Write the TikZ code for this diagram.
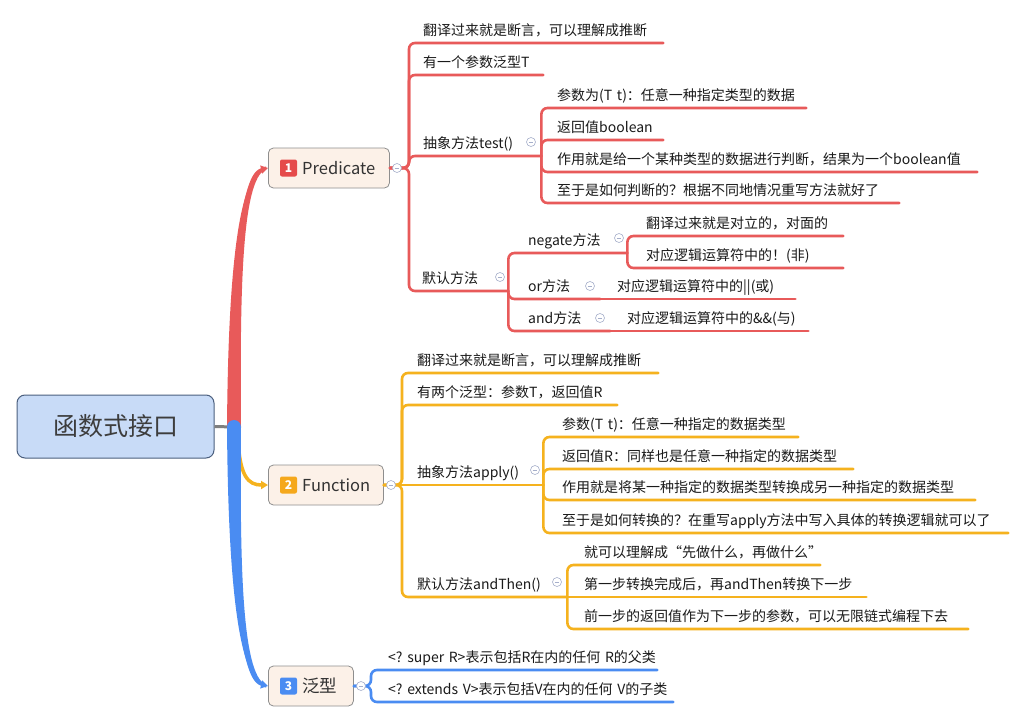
\documentclass[tikz,border=0pt]{standalone}
\usepackage{fontspec}
\setmainfont{Noto Sans CJK SC}
\usetikzlibrary{arrows.meta}
\definecolor{cred}{HTML}{E85A5A}
\definecolor{corange}{HTML}{F5B21E}
\definecolor{cblue}{HTML}{4A8CF2}
\definecolor{cgray}{HTML}{7F7F7F}
\definecolor{rootfill}{HTML}{C8DBF7}
\definecolor{rootborder}{HTML}{4B5F7E}
\definecolor{roottext}{HTML}{3D3D3D}
\definecolor{topicfill}{HTML}{FCF1E8}
\definecolor{topicborder}{HTML}{8E8E8E}
\definecolor{ctopic}{HTML}{333333}
\definecolor{ctext}{HTML}{1A1A1A}
\definecolor{bred}{HTML}{E54B4B}
\definecolor{borange}{HTML}{F5A81C}
\definecolor{bblue}{HTML}{4A8CF2}
\definecolor{ccol}{HTML}{A6AFCB}
\newcommand\leaffont{\fontsize{14pt}{17pt}\selectfont}
\newcommand\topicfont{\fontsize{16.5pt}{20pt}\selectfont}
\newcommand\topiccjkfont{\fontsize{17.5pt}{20pt}\selectfont}
\newcommand\rootfont{\fontsize{25pt}{28pt}\selectfont}
\newcommand\badgefont{\bfseries\fontsize{12pt}{14pt}\selectfont}
\begin{document}
\begin{tikzpicture}[x=1pt,y=-1pt,
  root/.style={rounded corners=8pt, fill=rootfill, draw=rootborder, line width=1pt, minimum width=197pt, minimum height=63pt, font=\rootfont, text=roottext, inner sep=0pt},
  topic/.style={anchor=west, rounded corners=5pt, fill=topicfill, draw=topicborder, line width=0.8pt, minimum height=40pt, inner sep=0pt},
  badge/.style={rounded corners=2pt, minimum size=17pt, inner sep=0pt, text=white, font=\badgefont},
  tlabel/.style={anchor=west, inner sep=0pt, font=\topicfont, text=ctopic},
  leaf/.style={anchor=south west, inner xsep=0pt, inner ysep=4pt, text height=11pt, text depth=3pt, align=left, font=\leaffont, text=ctext, execute at begin node={\hspace*{#1}}},
  brred/.style={draw=cred, line width=2.6pt, rounded corners=6pt, line cap=round},
  brorange/.style={draw=corange, line width=2.6pt, rounded corners=6pt, line cap=round},
  brblue/.style={draw=cblue, line width=2.6pt, rounded corners=6pt, line cap=round},
  col/.style={circle, draw=ccol, fill=white, minimum size=9pt, inner sep=0pt, line width=0.6pt,
    path picture={\draw[ccol, line width=0.7pt] ([xshift=-2.3pt]path picture bounding box.center) -- ([xshift=2.3pt]path picture bounding box.center);}},
  tip/.style={-{Triangle[length=7pt,width=8pt]}}
]
\useasboundingbox (0,0) rectangle (1026,723);
\fill[white] (0,0) rectangle (1026,723);

% root and main topics
\node[root] (R) at (115.5,426.5) {函数式接口};
\node[topic, minimum width=121pt] (P) at (268,168) {};
\node[topic, minimum width=115pt] (F) at (268,485) {};
\node[topic, minimum width=85pt] (G) at (268,686) {};
\node[badge, fill=bred] (Pb) at (288.5,168) {1};
\node[badge, fill=borange] (Fb) at (288.5,485) {2};
\node[badge, fill=bblue] (Gb) at (288.5,686) {3};
\node[tlabel] (Pl) at (302,168) {Predicate};
\node[tlabel] (Fl) at (302,485) {Function};
\node[tlabel, font=\topiccjkfont] (Gl) at (302,686) {泛型};

% main branches
\coordinate (JR) at (234,427);
\draw[cgray, line width=3pt] (R.east) -- (JR);
\fill[cred] (227,427) .. controls (228,300) and (235,172) .. (266,166.5) -- (266,169.5) .. controls (241,178) and (240,300) .. (241,427) -- cycle;
\draw[cred, line width=2.5pt, tip] (JR) .. controls (234,300) and (238,175) .. (P.west);
\draw[corange, line width=3.5pt, tip] (238,440) .. controls (240,476) and (248,485) .. (F.west);
\fill[cblue] (227,427) .. controls (228,554) and (235,682) .. (266,687.5) -- (266,684.5) .. controls (241,676) and (240,554) .. (241,427) -- cycle;
\fill[cblue] (234,427) circle[radius=7pt];
\draw[cblue, line width=2.5pt, tip] (JR) .. controls (234,554) and (238,679) .. (G.west);

% Predicate leaves
\node[leaf=14pt, text width=254pt] (p1) at (409,43) {翻译过来就是断言，可以理解成推断};
\node[leaf=14pt, text width=134pt] (p2) at (409,75) {有一个参数泛型T};
\node[leaf=14pt, text width=132pt] (pt) at (409,156) {抽象方法test()};
\node[leaf=16pt, text width=265pt] (pt1) at (541,108) {参数为(T~t)：任意一种指定类型的数据};
\node[leaf=16pt, text width=122pt] (pt2) at (541,140) {返回值boolean};
\node[leaf=16pt, text width=436pt] (pt3) at (541,172) {作用就是给一个某种类型的数据进行判断，结果为一个boolean值};
\node[leaf=16pt, text width=358pt] (pt4) at (541,203) {至于是如何判断的？根据不同地情况重写方法就好了};
\node[leaf=13pt, text width=99pt] (pd) at (409,291) {默认方法};
\node[leaf=20pt, text width=119pt] (pn) at (508,253) {negate方法};
\node[leaf=19pt, text width=216pt] (pn1) at (627,236) {翻译过来就是对立的，对面的};
\node[leaf=19pt, text width=216pt] (pn2) at (627,268) {对应逻辑运算符中的！(非)};
\node[leaf=20pt, text width=92pt] (po) at (508,299) {or方法};
\node[leaf=17pt, text width=195pt] (po1) at (600,299) {对应逻辑运算符中的||(或)};
\node[leaf=20pt, text width=102pt] (pa) at (508,331) {and方法};
\node[leaf=17pt, text width=198pt] (pa1) at (610,331) {对应逻辑运算符中的\&\&(与)};

\coordinate (JP) at (409,168);
\foreach \n in {p1,p2,pt,pd} {\draw[brred] (P.east) -- (JP) |- (\n.south east);}
\foreach \n in {pt1,pt2,pt3,pt4} {\draw[brred] (pt.south east) |- (\n.south east);}
\foreach \n in {pn,po,pa} {\draw[brred] (pd.south east) |- (\n.south east);}
\foreach \n in {pn1,pn2} {\draw[brred] (pn.south east) |- (\n.south east);}
\draw[brred] (po.south east) -- (po1.south east);
\draw[brred] (pa.south east) -- (pa1.south east);

% Function leaves
\node[leaf=15pt, text width=256pt] (f1) at (402,373) {翻译过来就是断言，可以理解成推断};
\node[leaf=15pt, text width=215pt] (f2) at (402,405) {有两个泛型：参数T，返回值R};
\node[leaf=15pt, text width=141pt] (fa) at (402,485) {抽象方法apply()};
\node[leaf=19pt, text width=255pt] (fa1) at (543,437) {参数(T~t)：任意一种指定的数据类型};
\node[leaf=19pt, text width=310pt] (fa2) at (543,469) {返回值R：同样也是任意一种指定的数据类型};
\node[leaf=19pt, text width=432pt] (fa3) at (543,500) {作用就是将某一种指定的数据类型转换成另一种指定的数据类型};
\node[leaf=19pt, text width=465pt] (fa4) at (543,533) {至于是如何转换的？在重写apply方法中写入具体的转换逻辑就可以了};
\node[leaf=15pt, text width=165pt] (fd) at (402,597) {默认方法andThen()};
\node[leaf=17pt, text width=253pt] (fd1) at (567,565) {就可以理解成“先做什么，再做什么”};
\node[leaf=17pt, text width=299pt] (fd2) at (567,597) {第一步转换完成后，再andThen转换下一步};
\node[leaf=17pt, text width=401pt] (fd3) at (567,629) {前一步的返回值作为下一步的参数，可以无限链式编程下去};

\coordinate (JF) at (402,485);
\foreach \n in {f1,f2,fd} {\draw[brorange] (F.east) -- (JF) |- (\n.south east);}
\draw[brorange] (F.east) -- (fa.south east);
\foreach \n in {fa1,fa2,fa3,fa4} {\draw[brorange] (fa.south east) |- (\n.south east);}
\foreach \n in {fd1,fd3} {\draw[brorange] (fd.south east) |- (\n.south east);}
\draw[brorange] (fd.south east) -- (fd2.south east);

% Generic leaves
\node[leaf=17pt, text width=286pt] (g1) at (371,670) {<?~super~R>表示包括R在内的任何~R的父类};
\node[leaf=17pt, text width=302pt] (g2) at (371,702) {<?~extends~V>表示包括V在内的任何~V的子类};
\coordinate (JG) at (371,686);
\foreach \n in {g1,g2} {\draw[brblue] (G.east) -- (JG) |- (\n.south east);}

% collapse markers
\node[col] (k1) at (397,168) {};
\node[col] (k2) at (531,142) {};
\node[col] (k3) at (500,277) {};
\node[col] (k4) at (619,238) {};
\node[col] (k5) at (590,286) {};
\node[col] (k6) at (600,318) {};
\node[col] (k7) at (391,485) {};
\node[col] (k8) at (535,470) {};
\node[col] (k9) at (557,582) {};
\node[col] (k10) at (361,686) {};
\end{tikzpicture}
\end{document}
